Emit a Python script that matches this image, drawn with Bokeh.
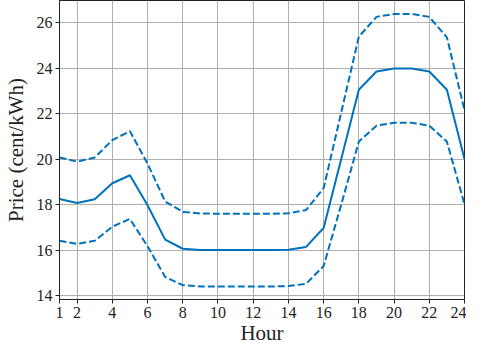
from bokeh.plotting import figure
from bokeh.models import Range1d, FixedTicker
from bokeh.embed import file_html
from bokeh.resources import INLINE

hours = list(range(1, 25))
mean_price = [18.25, 18.07, 18.24, 18.94, 19.29, 17.97, 16.46, 16.06, 16.01, 16.0, 16.0, 16.0,
              16.0, 16.02, 16.14, 16.97, 20.0, 23.05, 23.85, 23.98, 23.98, 23.85, 23.05, 20.0]
upper_price = [20.07, 19.89, 20.07, 20.83, 21.23, 19.8, 18.14, 17.68, 17.61, 17.6, 17.6, 17.6,
               17.6, 17.62, 17.76, 18.72, 22.05, 25.38, 26.25, 26.38, 26.38, 26.25, 25.35, 22.15]
lower_price = [16.41, 16.27, 16.41, 17.03, 17.37, 16.17, 14.82, 14.46, 14.4, 14.4, 14.4, 14.4,
               14.4, 14.42, 14.52, 15.3, 18.0, 20.77, 21.47, 21.6, 21.6, 21.47, 20.77, 18.02]
x_ticks = [1, 2, 4, 6, 8, 10, 12, 14, 16, 18, 20, 22, 24]
y_ticks = [14, 16, 18, 20, 22, 24, 26]

BLUE = "#0072bd"
FONT = "Liberation Serif"

p = figure(width=466, height=347, output_backend="svg", toolbar_location=None,
           x_range=Range1d(1, 24), y_range=Range1d(13.83, 26.97),
           min_border_left=40, min_border_right=2, min_border_top=0, min_border_bottom=0)

p.line(hours, mean_price, line_color=BLUE, line_width=2)
p.line(hours, upper_price, line_color=BLUE, line_width=2, line_dash="7 3")
p.line(hours, lower_price, line_color=BLUE, line_width=2, line_dash="7 3")

p.xaxis.ticker = FixedTicker(ticks=x_ticks)
p.yaxis.ticker = FixedTicker(ticks=y_ticks)
p.xaxis.axis_label = "Hour"
p.yaxis.axis_label = "Price (cent/kWh)"

for ax in (p.xaxis, p.yaxis):
    ax.axis_label_text_font = FONT
    ax.axis_label_text_font_style = "normal"
    ax.axis_label_text_font_size = "21px"
    ax.axis_label_text_color = "#222222"
    ax.major_label_text_font = FONT
    ax.major_label_text_font_size = "16px"
    ax.major_label_text_color = "#222222"
    ax.axis_line_color = "#222222"
    ax.axis_line_width = 1
    ax.major_tick_line_color = "#222222"
    ax.major_tick_in = 0
    ax.major_tick_out = 4
    ax.minor_tick_line_color = None
    ax.major_label_standoff = 3
p.xaxis.axis_label_standoff = 0
p.yaxis.axis_label_standoff = 6

p.xgrid.ticker = FixedTicker(ticks=x_ticks)
p.ygrid.ticker = FixedTicker(ticks=y_ticks)
p.grid.grid_line_color = "#b0b0b0"
p.grid.grid_line_width = 1
p.outline_line_color = "#222222"
p.outline_line_width = 1
p.outline_line_alpha = 1

open("out.html", "w").write(file_html(p, INLINE))
